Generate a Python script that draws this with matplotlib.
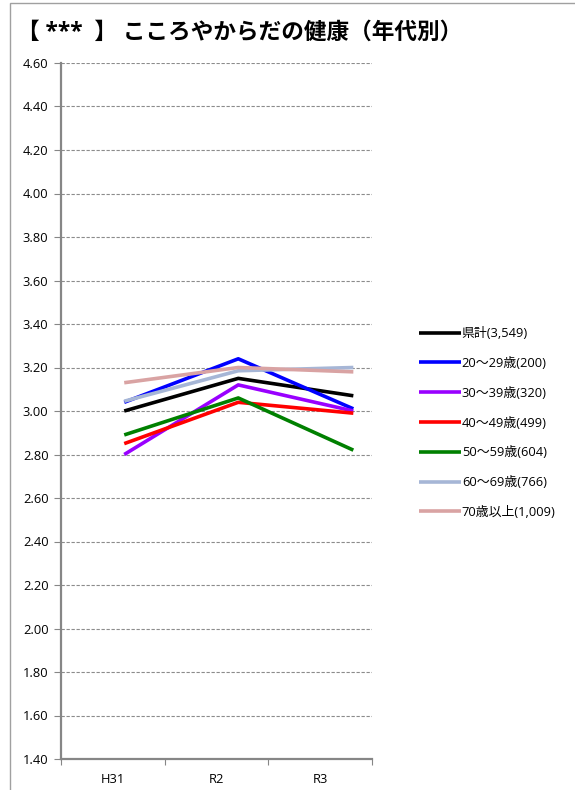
import matplotlib.pyplot as plt
from matplotlib.patches import Rectangle

plt.rcParams['font.family'] = ['Open Sans', 'Noto Sans CJK JP', 'DejaVu Sans']

years = ['H31', 'R2', 'R3']
labels = ['県計(3,549)', '20～29歳(200)', '30～39歳(320)', '40～49歳(499)',
          '50～59歳(604)', '60～69歳(766)', '70歳以上(1,009)']
total = [3.00, 3.15, 3.07]
age20 = [3.04, 3.24, 3.01]
age30 = [2.80, 3.12, 3.00]
age40 = [2.85, 3.04, 2.99]
age50 = [2.89, 3.06, 2.82]
age60 = [3.045, 3.185, 3.20]
age70 = [3.13, 3.20, 3.18]
series = [total, age20, age30, age40, age50, age60, age70]
colors = ['#000000', '#0000ff', '#9900ff', '#ff0000', '#008000', '#a6b6d6', '#d9a3a3']

# line x positions as drawn in the original (slightly shifted from label centres)
line_x = [0.61, 1.71, 2.82]
label_x = [0.5, 1.5, 2.5]

fig = plt.figure(figsize=(5.75, 7.9), dpi=100)
ax = fig.add_axes([61/575, 1 - 759/790, 311/575, 696/790])

for vals, c, lab in zip(series, colors, labels):
    ax.plot(line_x, vals, color=c, lw=2.6, label=lab, solid_capstyle='butt')

ax.set_xlim(0, 3)
ax.set_ylim(1.4, 4.6)
ax.set_yticks([1.4 + 0.2*i for i in range(17)])
ax.set_yticklabels(['%.2f' % (1.4 + 0.2*i) for i in range(17)], fontsize=9.3)
ax.set_xticks([0, 1, 2, 3])
ax.set_xticklabels([])
ax.set_xticks(label_x, minor=True)
ax.set_xticklabels(years, minor=True, fontsize=9.3)
ax.tick_params(axis='x', which='minor', length=0, pad=10)
ax.tick_params(axis='x', which='major', length=4, color='#868686', direction='out')
ax.tick_params(axis='y', length=5, color='#868686', direction='out', pad=4)

ax.grid(axis='y', linestyle=(0, (3, 1.5)), color='#8c8c8c', lw=0.8)
for sp in ['top', 'right']:
    ax.spines[sp].set_visible(False)
for sp in ['left', 'bottom']:
    ax.spines[sp].set_color('#868686')
    ax.spines[sp].set_linewidth(1.6)

ax.legend(loc='upper left', bbox_to_anchor=(414/575, 1 - 322/790),
          bbox_transform=fig.transFigure, frameon=False, fontsize=9.3,
          handlelength=3.2, handletextpad=0.1, labelspacing=1.3,
          borderaxespad=0)

fig.text(17/575, 1 - 33/790, '【 ***  】 こころやからだの健康（年代別）',
         fontsize=16.3, fontweight='bold', va='center', ha='left')

fig.patches.append(Rectangle((10/575, -0.1), 1.2, 1.1 - 3/790, transform=fig.transFigure,
                             fill=False, edgecolor='#a0a0a0', lw=1.0))

fig.savefig('out.png', dpi=100)
